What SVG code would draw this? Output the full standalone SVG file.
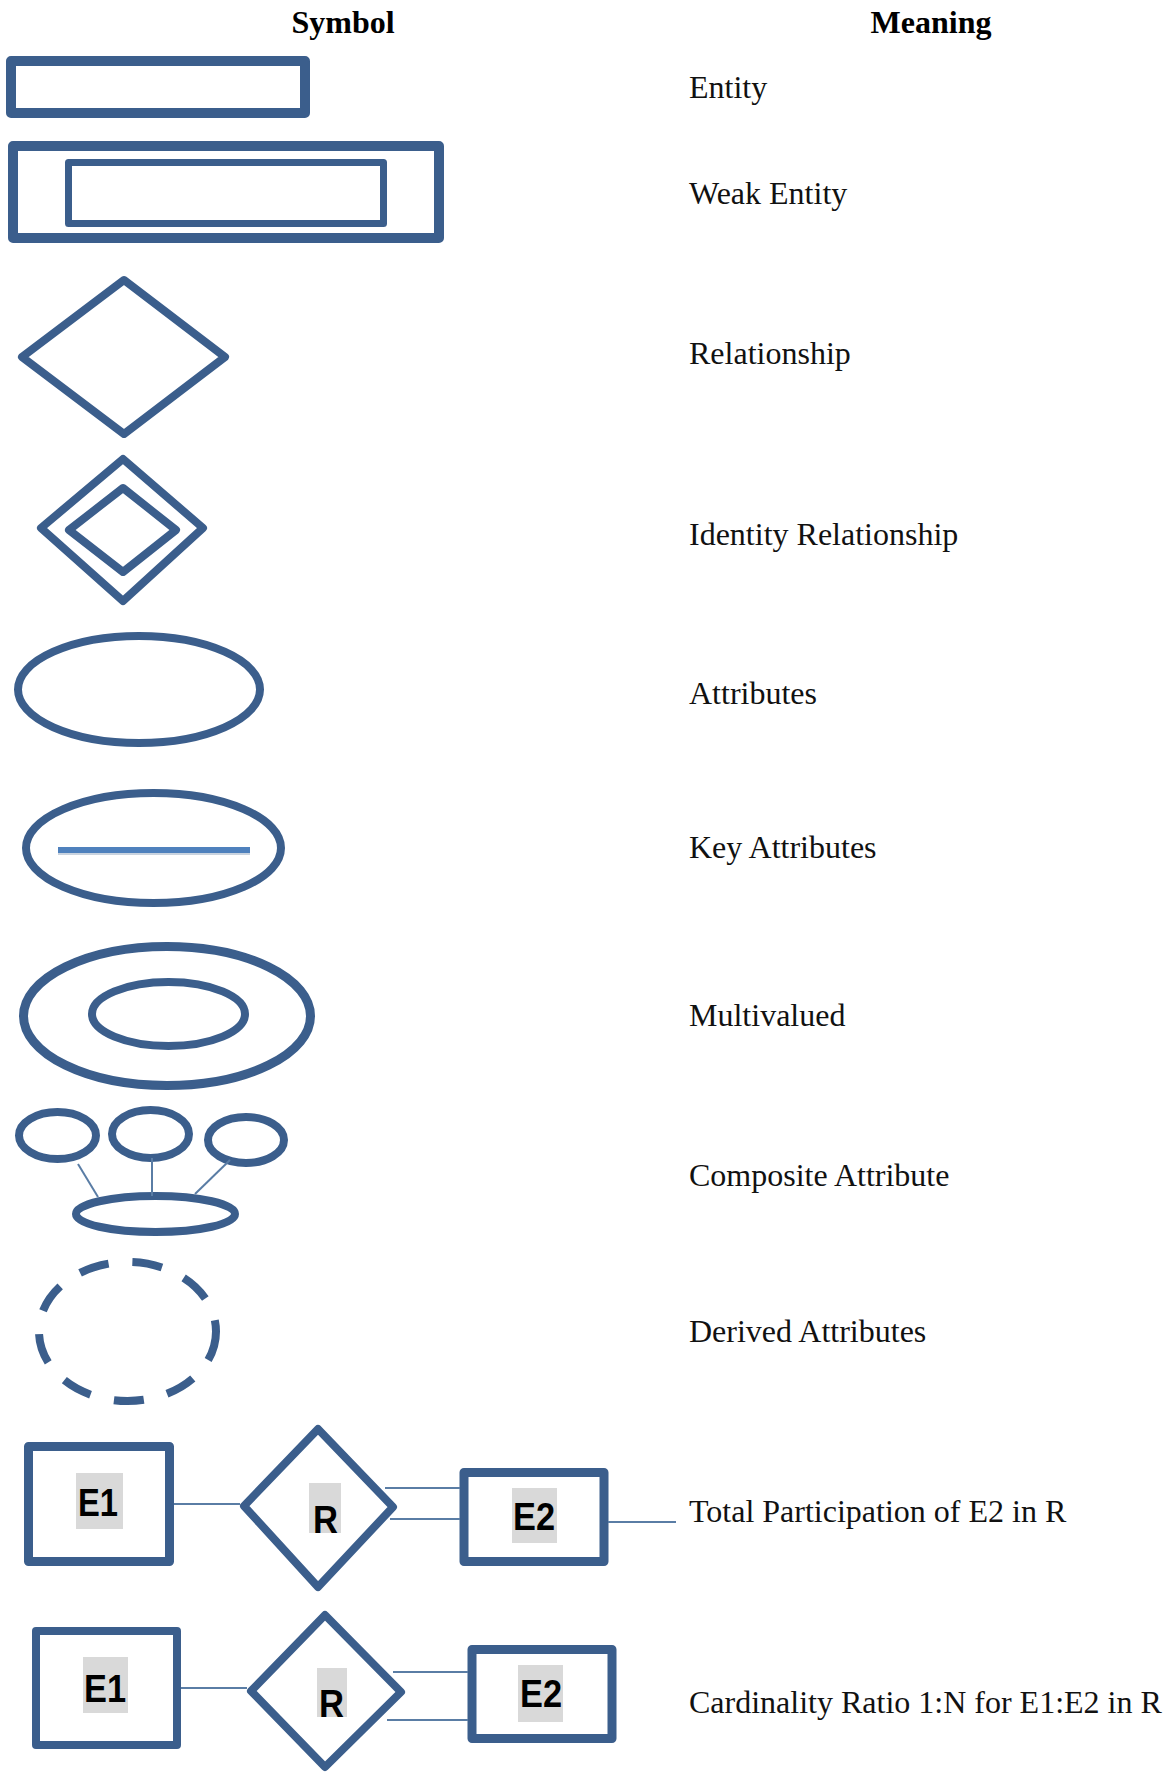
<svg xmlns="http://www.w3.org/2000/svg" width="1168" height="1774" viewBox="0 0 1168 1774">
<style>
.s{fill:none;stroke:#3B5E8C;stroke-width:8;stroke-linejoin:round}
.c{fill:none;stroke:#5A7DA5;stroke-width:2}
.h{font-family:"Liberation Serif","Times New Roman",serif;font-size:32px;font-weight:bold;fill:#000;text-anchor:middle}
.t{font-family:"Liberation Serif","Times New Roman",serif;font-size:32px;fill:#111}
.lb{fill:#D9D9D9}
.lt{font-family:"Liberation Sans",Arial,sans-serif;font-weight:bold;font-size:39px;fill:#000}
</style>
<rect width="1168" height="1774" fill="#fff"/>
<text class="h" x="343" y="33">Symbol</text>
<text class="h" x="931" y="33">Meaning</text>

<g id="entity"><rect class="s" x="11" y="61" width="294" height="52" style="stroke-width:10"/></g>
<g id="weak-entity">
<rect class="s" x="13" y="146" width="426" height="92" style="stroke-width:10"/>
<rect class="s" x="68.5" y="162.5" width="315" height="61" style="stroke-width:7"/>
</g>
<g id="relationship"><polygon class="s" points="124,280 225,357 124,434 22,357"/></g>
<g id="identity-relationship">
<polygon class="s" points="123,459 203,528 123,601 41,528"/>
<polygon class="s" points="123,488 176,530 123,572 69,530"/>
</g>
<g id="attributes"><ellipse class="s" cx="139" cy="689.5" rx="121" ry="53.5"/></g>
<g id="key-attributes">
<ellipse class="s" cx="153.5" cy="848" rx="127.5" ry="55"/>
<line x1="58" y1="853" x2="250" y2="853" stroke="#c9d3df" stroke-width="4"/>
<line x1="58" y1="850" x2="250" y2="850" stroke="#4F81BD" stroke-width="6"/>
</g>
<g id="multivalued">
<ellipse class="s" cx="167" cy="1016" rx="143.5" ry="69.5" style="stroke-width:9"/>
<ellipse class="s" cx="168.5" cy="1014" rx="76.5" ry="32"/>
</g>
<g id="composite-attribute">
<ellipse class="s" cx="57.5" cy="1135.5" rx="38.5" ry="23.5"/>
<ellipse class="s" cx="150.5" cy="1134" rx="38.5" ry="24"/>
<ellipse class="s" cx="246" cy="1140" rx="38" ry="23"/>
<ellipse class="s" cx="155.5" cy="1214" rx="79.5" ry="18"/>
</g>
<g id="derived-attributes"><ellipse class="s" cx="127.5" cy="1331.5" rx="88.5" ry="69.5" stroke-dasharray="30 24"/></g>

<g id="tp-e1"><rect class="s" x="28.5" y="1446.5" width="141" height="115" style="stroke-width:9"/>
<rect class="lb" x="76" y="1473" width="47" height="56"/><text class="lt" x="78" y="1516" textLength="40" lengthAdjust="spacingAndGlyphs">E1</text></g>
<g id="tp-r"><polygon class="s" points="318,1429 393,1507 318,1587 244,1506"/>
<rect class="lb" x="309" y="1483" width="32" height="50"/><text class="lt" x="313" y="1533" font-size="42" textLength="25" lengthAdjust="spacingAndGlyphs">R</text></g>
<g id="tp-e2"><rect class="s" x="464" y="1472.5" width="140" height="89" style="stroke-width:9"/>
<rect class="lb" x="512" y="1488" width="45" height="55"/><text class="lt" x="513" y="1530" textLength="42" lengthAdjust="spacingAndGlyphs">E2</text></g>

<g id="cr-e1"><rect class="s" x="36" y="1631" width="141" height="114"/>
<rect class="lb" x="83" y="1657" width="45" height="56"/><text class="lt" x="84" y="1702" textLength="42" lengthAdjust="spacingAndGlyphs">E1</text></g>
<g id="cr-r"><polygon class="s" points="325,1615 401,1692 325,1767 251,1691"/>
<rect class="lb" x="317" y="1668" width="30" height="49"/><text class="lt" x="319" y="1717" font-size="42" textLength="25" lengthAdjust="spacingAndGlyphs">R</text></g>
<g id="cr-e2"><rect class="s" x="472" y="1649.5" width="140" height="89" style="stroke-width:9"/>
<rect class="lb" x="518" y="1665" width="45" height="57"/><text class="lt" x="520" y="1707" textLength="42" lengthAdjust="spacingAndGlyphs">E2</text></g>

<g id="connectors">
<line class="c" x1="78" y1="1164" x2="98" y2="1197"/>
<line class="c" x1="152" y1="1158" x2="152" y2="1196"/>
<line class="c" x1="230" y1="1160" x2="195" y2="1194"/>
<line class="c" x1="174" y1="1504" x2="240" y2="1504"/>
<line class="c" x1="385" y1="1488" x2="460" y2="1488"/>
<line class="c" x1="390" y1="1519" x2="460" y2="1519"/>
<line class="c" x1="608" y1="1522" x2="676" y2="1522"/>
<line class="c" x1="181" y1="1688" x2="247" y2="1688"/>
<line class="c" x1="393" y1="1672" x2="468" y2="1672"/>
<line class="c" x1="387" y1="1720" x2="468" y2="1720"/>
</g>

<g id="meanings">
<text class="t" x="689" y="98">Entity</text>
<text class="t" x="689" y="204">Weak Entity</text>
<text class="t" x="689" y="364">Relationship</text>
<text class="t" x="689" y="545">Identity Relationship</text>
<text class="t" x="689" y="704">Attributes</text>
<text class="t" x="689" y="858">Key Attributes</text>
<text class="t" x="689" y="1026">Multivalued</text>
<text class="t" x="689" y="1186">Composite Attribute</text>
<text class="t" x="689" y="1342">Derived Attributes</text>
<text class="t" x="689" y="1522">Total Participation of E2 in R</text>
<text class="t" x="689" y="1713">Cardinality Ratio 1:N for E1:E2 in R</text>
</g>
</svg>
